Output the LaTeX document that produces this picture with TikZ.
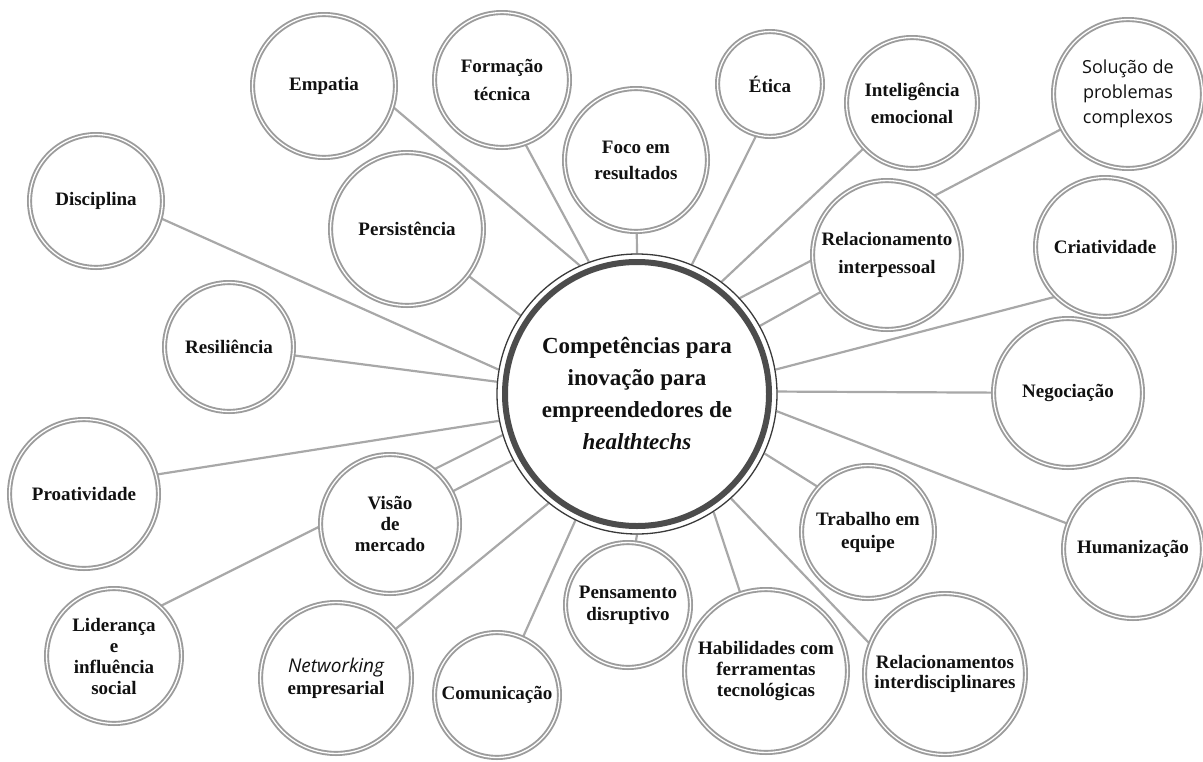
\documentclass[tikz,border=0pt]{standalone}
\usepackage{fontspec}
\setmainfont{Liberation Serif}
\newfontfamily\osans{Open Sans}
\usetikzlibrary{backgrounds}
\definecolor{ringgray}{HTML}{9C9C9C}
\definecolor{linkgray}{HTML}{A8A8A8}
\definecolor{hubdark}{HTML}{4C4C4C}
\definecolor{hubthin}{HTML}{3A3A3A}
\definecolor{txt}{HTML}{111111}
\begin{document}
\begin{tikzpicture}[x=1pt,y=-1pt,
  bub/.style={circle, draw=ringgray, line width=1.9pt, double=white,
    double distance=1.3pt, fill=white, inner sep=0pt, align=center,
    text=txt, font=\fontsize{19}{22}\selectfont\bfseries,
    minimum size=2*#1-5.1},
  lead/.style={font=\fontsize{19}{#1}\selectfont\bfseries},
  hub/.style={circle, draw=hubthin, line width=1.3pt, fill=white,
    inner sep=0pt, align=center, text=txt, minimum size=280,
    font=\fontsize{23}{32}\selectfont\bfseries},
  link/.style={draw=linkgray, line width=2.2pt}
]
\useasboundingbox (0,0) rectangle (1203,761);

% hub
\node[hub] (c) at (637,394) {Competências para\\inovação para\\empreendedores de\\{\itshape healthtechs}};
\draw[hubdark, line width=6pt] (c.center) circle[radius=132];

% outer bubbles
\node[bub=74] (emp) at (324,86) {Empatia};
\node[bub=70, lead=28] (for) at (502,80) {Formação\\técnica};
\node[bub=74, lead=26] (foc) at (636,160) {Foco em\\resultados};
\node[bub=55] (eti) at (770,84) {Ética};
\node[bub=68, lead=27] (int) at (912,103) {Inteligência\\emocional};
\node[bub=77, font=\osans\fontsize{18}{25}\selectfont] (sol) at (1128,94) {Solução de\\problemas\\complexos};
\node[bub=69] (dis) at (96,201) {Disciplina};
\node[bub=79] (per) at (407,229) {Persistência};
\node[bub=77, lead=28] (rip) at (887,255) {Relacionamento\\interpessoal};
\node[bub=72] (cri) at (1105,247) {Criatividade};
\node[bub=67] (res) at (229,347) {Resiliência};
\node[bub=77] (neg) at (1068,393) {Negociação};
\node[bub=77] (pro) at (84,494) {Proatividade};
\node[bub=72, lead=21] (vis) at (390,524) {Visão\\de\\mercado};
\node[bub=69, lead=23] (tra) at (868,532) {Trabalho em\\equipe};
\node[bub=72] (hum) at (1133,549) {Humanização};
\node[bub=70, lead=21] (lid) at (114,656) {Liderança\\e\\influência\\social};
\node[bub=78, lead=22] (net) at (336,678) {{\osans\mdseries\itshape Networking}\\empresarial};
\node[bub=65] (com) at (497,695) {Comunicação};
\node[bub=65, lead=22] (pen) at (628,605) {Pensamento\\disruptivo};
\node[bub=84, lead=21] (hab) at (766,671) {Habilidades com\\ferramentas\\tecnológicas};
\node[bub=83, lead=20] (rid) at (945,674) {Relacionamentos\\interdisciplinares};

% connectors
\begin{scope}[on background layer]
\draw[link] (c.114) -- (emp.343);
\draw[link] (c.110) -- (for.290);
\draw[link] (c.90) -- (foc);
\draw[link] (c.67) -- (eti.255);
\draw[link] (c.53) -- (int);
\draw[link] (c.43.6) -- (sol);
\draw[link] (c.29) -- (rip);
\draw[link] (c.10) -- (cri.225);
\draw[link] (c.1) -- (neg);
\draw[link] (c.-7.4) -- (hum);
\draw[link] (c.-25) -- (tra.138);
\draw[link] (c.-48) -- (rid.158);
\draw[link] (c.-57) -- (hab);
\draw[link] (c.-90) -- (pen.83);
\draw[link] (c.244) -- (com);
\draw[link] (c.231) -- (net);
\draw[link] (c.208) -- (vis);
\draw[link] (c.197) -- (lid.47);
\draw[link] (c.191) -- (pro.15);
\draw[link] (c.175.5) -- (res);
\draw[link] (c.170) -- (dis.345);
\draw[link] (c.146) -- (per);
\end{scope}
\end{tikzpicture}
\end{document}
